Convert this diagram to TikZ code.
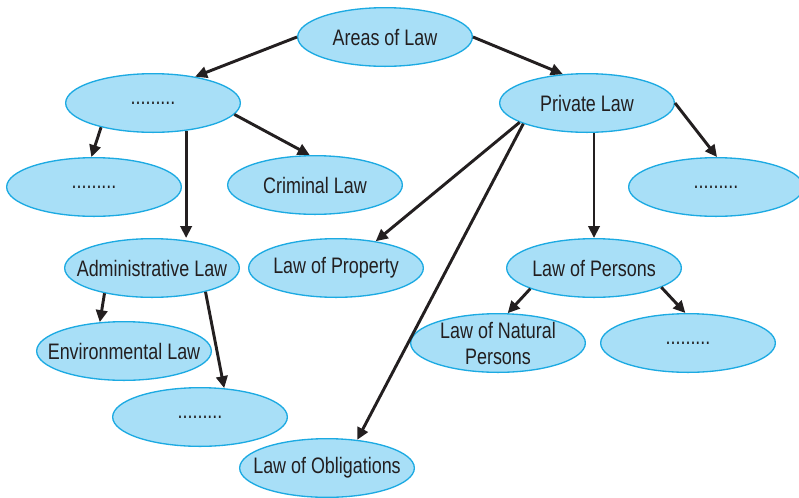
\documentclass[tikz,border=0pt]{standalone}
\usepackage{fontspec}
\setmainfont[FakeStretch=0.8]{Liberation Sans}
\usepackage{xcolor}
\usetikzlibrary{arrows.meta,shapes.geometric}
\definecolor{areafill}{RGB}{168,223,247}
\definecolor{arearim}{RGB}{28,170,226}
\definecolor{inkdark}{RGB}{35,31,32}
\tikzset{%
  tipL/.tip={Triangle[length=9pt,width=8.5pt]},
  area/.style={ellipse, draw=arearim, line width=1pt, fill=areafill, text=inkdark,
    minimum width=131pt, minimum height=44pt, inner xsep=-25pt, inner ysep=-8pt,
    font=\fontsize{16.8}{19.5}\selectfont, align=center},
  link/.style={draw=inkdark, line width=2.2pt, -tipL}
}

\begin{document}
\begin{tikzpicture}[x=.75pt,y=-.75pt]
\useasboundingbox (0,0) rectangle (799,497);
\node[area] (areas) at (385,37) {Areas of Law};
\node[area] (dotsA) at (153,103) {.........};
\node[area] (private) at (587,103) {Private Law};
\node[area] (dotsB) at (94,187) {.........};
\node[area] (criminal) at (315,185) {Criminal Law};
\node[area] (dotsC) at (716,187) {.........};
\node[area] (admin) at (152,268) {Administrative Law};
\node[area] (property) at (336,268) {Law of Property};
\node[area] (persons) at (594,268) {Law of Persons};
\node[area] (environ) at (124,351) {Environmental Law};
\node[area] (natural) at (498,343) {Law of Natural\\Persons};
\node[area] (dotsD) at (688,343) {.........};
\node[area] (dotsE) at (200,417) {.........};
\node[area] (obligations) at (327,468) {Law of Obligations};
% connectors
\draw[link] (areas.west) -- (dotsA.32);
\draw[link] (areas.east) -- (private.130);
\draw[link] (dotsA.205) -- (dotsB.95);
\draw[link] (dotsA.320) -- (dotsA.320 |- admin.north);
\draw[link] (dotsA.352) -- (criminal.100);
\draw[link] (private.196) -- (property.34);
\draw[link] (private.198) -- (obligations.43);
\draw[link] (persons.north |- private.south) -- (persons.north);
\draw[link] (private.east) -- (dotsC.88);
\draw[link] (admin.208) -- (environ.130);
\draw[link] (admin.336) -- (dotsE.50);
\draw[link] (persons.198) -- (natural.72);
\draw[link] (persons.344) -- (dotsD.95);
\end{tikzpicture}
\end{document}
